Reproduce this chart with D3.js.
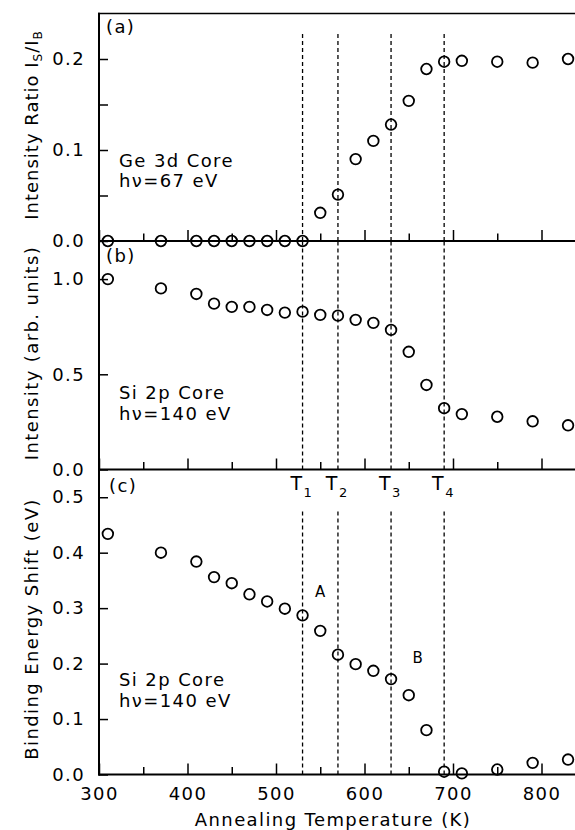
<!DOCTYPE html>
<html>
<head>
<meta charset="utf-8">
<script src="https://cdn.jsdelivr.net/npm/d3@7"></script>
<style>
  html, body { margin: 0; padding: 0; background: #fff; }
  svg { display: block; }
  text { font-family: "DejaVu Sans", sans-serif; fill: #000; }
</style>
</head>
<body>
<svg id="chart" width="575" height="830"></svg>
<script>
// ---- data ----
const temps = [310, 370, 410, 430, 450, 470, 490, 510, 530, 550, 570, 590, 610, 630, 650, 670, 690, 710, 750, 790, 830];
const ratioIsIb = [0, 0, 0, 0, 0, 0, 0, 0, 0, 0.031, 0.051, 0.090, 0.110, 0.128, 0.154, 0.189, 0.197, 0.198, 0.197, 0.196, 0.200];
const intensitySi = [1.0, 0.951, 0.922, 0.871, 0.854, 0.854, 0.838, 0.824, 0.829, 0.812, 0.808, 0.786, 0.770, 0.733, 0.618, 0.444, 0.322, 0.291, 0.277, 0.253, 0.232];
const bindingShift = [0.434, 0.400, 0.384, 0.356, 0.345, 0.325, 0.312, 0.299, 0.287, 0.259, 0.216, 0.199, 0.187, 0.172, 0.143, 0.080, 0.005, 0.002, 0.009, 0.021, 0.027];
const transitionTemps = [530, 570, 630, 690];
const transitionLabels = ["1", "2", "3", "4"];
const xMajorTicks = [300, 400, 500, 600, 700, 800];
const xMinorTicks = [350, 450, 550, 650, 750];
const aTicks = [0, 0.05, 0.1, 0.15, 0.2];
const aTickLabels = [0, 0.1, 0.2];
const bTicks = [0, 0.5, 1.0];
const cTicks = [0, 0.1, 0.2, 0.3, 0.4, 0.5];

// ---- layout ----
const svg = d3.select("#chart");
const FS = 18, LS = 1.4;
const x = d3.scaleLinear().domain([300, 850]).range([99, 585.75]);
const panels = [
  { key: "a", y: d3.scaleLinear().domain([0, 0.25]).range([241, 13.5]), vals: ratioIsIb,
    ticks: aTicks, labels: aTickLabels, dashTop: 0.230 },
  { key: "b", y: d3.scaleLinear().domain([0, 1.2]).range([469.5, 241]), vals: intensitySi,
    ticks: bTicks, labels: bTicks, dashTop: 1.2 },
  { key: "c", y: d3.scaleLinear().domain([0, 0.55]).range([774.5, 469.5]), vals: bindingShift,
    ticks: cTicks, labels: cTicks, dashTop: 0.476 }
];

panels.forEach((p, i) => {
  const g = svg.append("g");
  const y0 = p.y(0);
  g.selectAll("line.dash").data(transitionTemps).enter().append("line")
    .attr("x1", d => x(d)).attr("x2", d => x(d))
    .attr("y1", y0).attr("y2", p.y(p.dashTop))
    .attr("stroke", "#000").attr("stroke-width", 1.3).attr("stroke-dasharray", "4,3");

  const fmt = d => p.labels.some(l => Math.abs(l - d) < 1e-9) ? d3.format(".1f")(d) : "";
  const ya = d3.axisLeft(p.y).tickValues(p.ticks).tickSizeInner(-9).tickSizeOuter(0).tickPadding(14).tickFormat(fmt);
  const yg = g.append("g").attr("transform", "translate(99,0)").call(ya);
  yg.select(".domain").remove();
  yg.selectAll(".tick line").attr("stroke", "#000").attr("stroke-width", 1.5);
  yg.selectAll(".tick text").attr("font-size", FS).attr("letter-spacing", LS).attr("font-family", "DejaVu Sans");

  const xa = d3.axisBottom(x).tickValues(xMajorTicks).tickSizeInner(-11).tickSizeOuter(0).tickPadding(12.7)
    .tickFormat(i === 2 ? d3.format("d") : () => "");
  const xg = g.append("g").attr("transform", `translate(0,${y0})`).call(xa);
  xg.select(".domain").remove();
  xg.selectAll(".tick line").attr("stroke", "#000").attr("stroke-width", 1.5);
  xg.selectAll(".tick text").attr("font-size", FS).attr("letter-spacing", LS).attr("font-family", "DejaVu Sans");
  const xm = d3.axisBottom(x).tickValues(xMinorTicks).tickSizeInner(-7.5).tickSizeOuter(0).tickFormat(() => "");
  const xmg = g.append("g").attr("transform", `translate(0,${y0})`).call(xm);
  xmg.select(".domain").remove();
  xmg.selectAll(".tick line").attr("stroke", "#000").attr("stroke-width", 1.5);

  g.append("line").attr("x1", 98).attr("x2", 575).attr("y1", y0).attr("y2", y0)
    .attr("stroke", "#000").attr("stroke-width", 2);

  g.selectAll("circle").data(temps).enter().append("circle")
    .attr("cx", d => x(d)).attr("cy", (d, j) => p.y(p.vals[j]))
    .attr("r", 5.3).attr("fill", "none").attr("stroke", "#000").attr("stroke-width", 1.8);
});

svg.append("line").attr("x1", 98).attr("x2", 575).attr("y1", 13.5).attr("y2", 13.5).attr("stroke", "#000").attr("stroke-width", 1.6);
svg.append("line").attr("x1", 99).attr("x2", 99).attr("y1", 12.7).attr("y2", 775.5).attr("stroke", "#000").attr("stroke-width", 2);

const tx = (s, xx, yy, fs) => svg.append("text").attr("x", xx).attr("y", yy).attr("font-size", fs || FS).attr("letter-spacing", LS).text(s);
tx("(a)", 106, 33);
tx("(b)", 106, 262);
tx("(c)", 109, 492);
tx("Ge 3d Core", 119, 167);
tx("h\u03BD=67 eV", 119, 187);
tx("Si 2p Core", 119, 399);
tx("h\u03BD=140 eV", 119, 420);
tx("Si 2p Core", 119, 686);
tx("h\u03BD=140 eV", 119, 707);
svg.append("text").attr("x", x(550)).attr("y", 596.5).attr("font-size", 15).attr("text-anchor", "middle").text("A");
svg.append("text").attr("x", x(660)).attr("y", 662.5).attr("font-size", 15).attr("text-anchor", "middle").text("B");

transitionTemps.forEach((t, k) => {
  svg.append("text").attr("x", x(t) - 0.5).attr("y", 489.5).attr("font-size", 19).attr("text-anchor", "end").text("T");
  svg.append("text").attr("x", x(t) + 1).attr("y", 497).attr("font-size", 13).attr("text-anchor", "start").text(transitionLabels[k]);
});

svg.append("text").attr("x", 333).attr("y", 826).attr("font-size", FS).attr("letter-spacing", LS)
  .attr("text-anchor", "middle").text("Annealing Temperature (K)");

const ya1 = svg.append("text").attr("transform", "translate(38,125) rotate(-90)").attr("text-anchor", "middle")
  .attr("font-size", FS).attr("letter-spacing", 1.0);
ya1.append("tspan").text("Intensity Ratio I");
ya1.append("tspan").attr("font-size", 12).attr("dy", 4).text("S");
ya1.append("tspan").attr("dy", -4).text("/I");
ya1.append("tspan").attr("font-size", 12).attr("dy", 4).text("B");

svg.append("text").attr("transform", "translate(38,353) rotate(-90)").attr("text-anchor", "middle")
  .attr("font-size", FS).attr("letter-spacing", LS).text("Intensity (arb. units)");
svg.append("text").attr("transform", "translate(38,629) rotate(-90)").attr("text-anchor", "middle")
  .attr("font-size", FS).attr("letter-spacing", LS).text("Binding Energy Shift (eV)");
</script>
</body>
</html>
